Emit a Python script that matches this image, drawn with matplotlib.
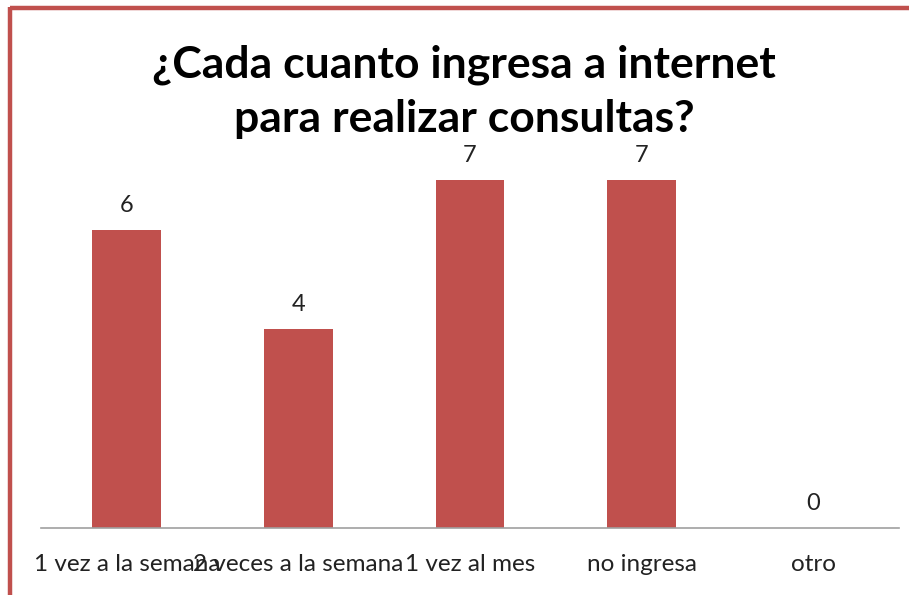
import matplotlib
matplotlib.use("Agg")
import matplotlib.pyplot as plt
from matplotlib.lines import Line2D

# datos de la encuesta
categorias = ["1 vez a la semana", "2 veces a la semana", "1 vez al mes", "no ingresa", "otro"]
valores = [6, 4, 7, 7, 0]

rojo = "#C0504D"
plt.rcParams['font.family'] = ['Lato', 'DejaVu Sans']

fig = plt.figure(figsize=(9.09, 5.95), dpi=100)
fig.patch.set_facecolor('white')

ax = fig.add_axes([41/909, 67/595, 858/909, 398/595])
x = list(range(len(categorias)))
ax.bar(x, valores, width=0.4, color=rojo)
ax.set_xlim(-0.5, len(categorias) - 0.5)
ax.set_ylim(0, 8)

for xi, v in zip(x, valores):
    ax.annotate(str(v), (xi, v), xytext=(0, 10), textcoords='offset points',
                ha='center', va='bottom', fontsize=17, color='#222222')

ax.set_xticks(x)
ax.set_xticklabels(categorias, fontsize=17.5, color='#222222')
ax.tick_params(axis='x', length=0, pad=19)
ax.set_yticks([])
for lado in ['top', 'right', 'left']:
    ax.spines[lado].set_visible(False)
ax.spines['bottom'].set_color('#A0A0A0')
ax.spines['bottom'].set_linewidth(1.2)

fig.text(464/909, 1 - 92/595, "¿Cada cuanto ingresa a internet\npara realizar consultas?",
         ha='center', va='center', fontsize=32, fontweight='bold', linespacing=1.42)

# marco rojo (solo se ve arriba y a la izquierda)
fig.add_artist(Line2D([9.5/909, 1.0], [1 - 8/595, 1 - 8/595], transform=fig.transFigure,
                      color=rojo, linewidth=3.2, solid_capstyle='butt'))
fig.add_artist(Line2D([9.5/909, 9.5/909], [0, 1 - 6.5/595], transform=fig.transFigure,
                      color=rojo, linewidth=3.2, solid_capstyle='butt'))

fig.savefig("out.png", dpi=100)
